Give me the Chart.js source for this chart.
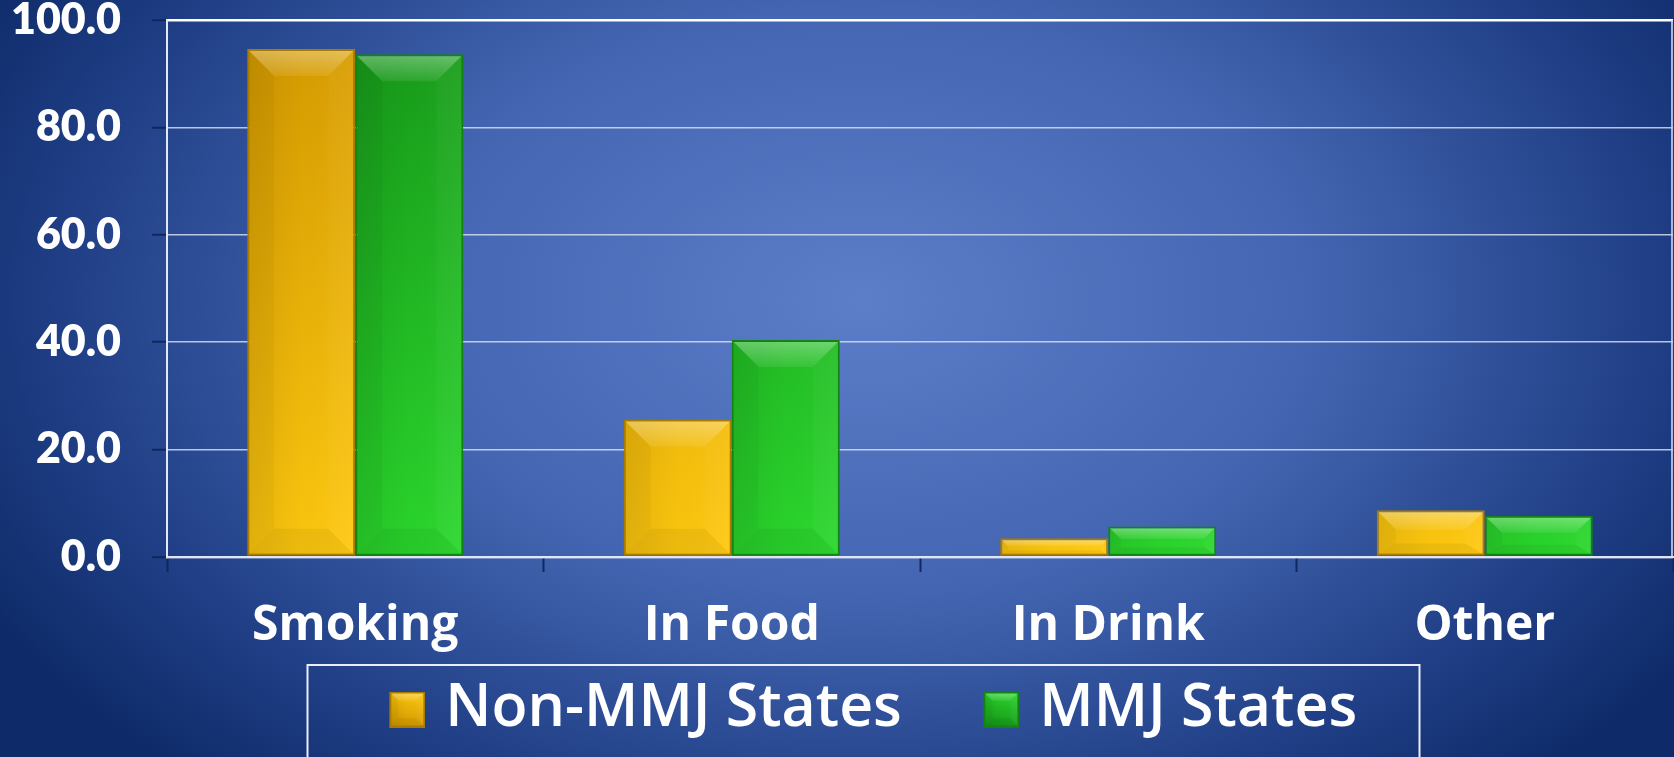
<!DOCTYPE html>
<html>
<head>
<meta charset="utf-8">
<script src="https://cdn.jsdelivr.net/npm/chart.js@4.4.1/dist/chart.umd.min.js"></script>
<style>
  html, body { margin: 0; padding: 0; background: #0e2a68; }
  canvas { display: block; }
</style>
</head>
<body>
<canvas id="chart" width="1674" height="757"></canvas>
<script>
const categories = ['Smoking', 'In Food', 'In Drink', 'Other']
const nonMmjStates = [94.6, 25.6, 3.5, 8.7]
const mmjStates = [93.6, 40.4, 5.7, 7.7]
const yTicks = [0, 20, 40, 60, 80, 100]

const gold = { dark: '#d69b00', light: '#ffc90f', edge: '#a97b00' }
const green = { dark: '#179a19', light: '#2bd82d', edge: '#138413' }

const tickDark = 'rgba(14, 38, 92, 0.95)'

// legend marker box: the swatch sits at the right end of a wider transparent canvas,
// which pushes it away from the previous label and closer to its own text
const SWATCH = 36
const MARKER_BOX = 88
const MARKER_CANVAS = MARKER_BOX + 19

// bevelled "pillow" look for a bar: light top facet, darker sides and bottom
function drawBevel(ctx, l, t, r, b) {
  const w = r - l
  const h = b - t
  if (w <= 0 || h <= 0) return
  const d = Math.min(w * 0.24, h * 0.42)
  const db = Math.min(d, h * 0.25)

  const facet = (pts, fill) => {
    ctx.beginPath()
    ctx.moveTo(pts[0][0], pts[0][1])
    pts.slice(1).forEach(p => ctx.lineTo(p[0], p[1]))
    ctx.closePath()
    ctx.fillStyle = fill
    ctx.fill()
  }

  ctx.save()
  const shade = ctx.createLinearGradient(l, 0, r, 0)
  shade.addColorStop(0, 'rgba(0,0,0,0.09)')
  shade.addColorStop(0.5, 'rgba(0,0,0,0.02)')
  shade.addColorStop(1, 'rgba(255,255,255,0.03)')
  ctx.fillStyle = shade
  ctx.fillRect(l, t, w, h)

  const topLight = ctx.createLinearGradient(0, t, 0, t + d)
  topLight.addColorStop(0, 'rgba(255,255,255,0.32)')
  topLight.addColorStop(1, 'rgba(255,255,255,0.08)')
  facet([[l, t], [r, t], [r - d, t + d], [l + d, t + d]], topLight)
  facet([[l, t], [l + d, t + d], [l + d, b - db], [l, b]], 'rgba(0,0,0,0.03)')
  facet([[r, t], [r - d, t + d], [r - d, b - db], [r, b]], 'rgba(255,255,255,0.03)')
  facet([[l, b], [l + d, b - db], [r - d, b - db], [r, b]], 'rgba(0,0,0,0.05)')
  ctx.restore()
}

function makeSwatch(colors) {
  const c = document.createElement('canvas')
  c.width = MARKER_CANVAS
  c.height = SWATCH
  const g = c.getContext('2d')
  g.translate(MARKER_CANVAS - SWATCH, 0)
  const fill = g.createLinearGradient(0, 0, 0, SWATCH)
  fill.addColorStop(0, colors.light)
  fill.addColorStop(1, colors.dark)
  g.fillStyle = fill
  g.fillRect(0, 0, SWATCH, SWATCH)
  drawBevel(g, 1, 1, SWATCH - 1, SWATCH - 1)
  g.strokeStyle = colors.edge
  g.lineWidth = 2
  g.strokeRect(1, 1, SWATCH - 2, SWATCH - 2)
  return c
}

function barFill(colors) {
  return ({ chart }) => {
    const area = chart.chartArea
    if (!area) return colors.light
    const g = chart.ctx.createLinearGradient(0, area.top, 0, area.bottom)
    g.addColorStop(0, colors.dark)
    g.addColorStop(1, colors.light)
    return g
  }
}

const swatches = [makeSwatch(gold), makeSwatch(green)]

const backdrop = {
  id: 'backdrop',
  beforeDraw(chart) {
    const { ctx } = chart
    ctx.save()
    ctx.translate(860, 300)
    ctx.scale(1, 0.65)
    const g = ctx.createRadialGradient(0, 0, 0, 0, 0, 1000)
    g.addColorStop(0, '#5c7ec9')
    g.addColorStop(0.45, '#4466b2')
    g.addColorStop(0.8, '#1f3e85')
    g.addColorStop(1, '#0e2a68')
    ctx.fillStyle = g
    ctx.fillRect(-1000, -1000 / 0.65, 2000, 2000 / 0.65 + 200)
    ctx.restore()
  },
  afterLayout(chart) {
    chart.legend.left += 6
    chart.legend.right += 6
  },
  afterDatasetsDraw(chart) {
    const { ctx } = chart
    chart.data.datasets.forEach((ds, i) => {
      chart.getDatasetMeta(i).data.forEach(bar => {
        const { x, y, base, width } = bar.getProps(['x', 'y', 'base', 'width'], true)
        drawBevel(ctx, x - width / 2 + 2, y + 2, x + width / 2 - 2, base - 2)
      })
    })
  },
  afterDraw(chart) {
    const { ctx, chartArea, legend } = chart
    ctx.save()
    ctx.strokeStyle = 'rgba(205, 215, 240, 0.8)'
    ctx.lineWidth = 2
    ctx.beginPath()
    ctx.moveTo(chartArea.right - 1, chartArea.top)
    ctx.lineTo(chartArea.right - 1, chartArea.bottom)
    ctx.stroke()

    // frame round the legend, running off the bottom edge
    const cx = (legend.left + legend.right) / 2
    ctx.strokeStyle = '#e9eef9'
    ctx.lineWidth = 2
    ctx.strokeRect(cx - 535, legend.top + 5, 1112, 140)
    ctx.restore()
  }
}

new Chart(document.getElementById('chart'), {
  type: 'bar',
  data: {
    labels: categories,
    datasets: [
      {
        label: 'Non-MMJ States',
        data: nonMmjStates,
        backgroundColor: barFill(gold),
        borderColor: gold.edge,
        borderWidth: 2,
        borderSkipped: false
      },
      {
        label: 'MMJ States',
        data: mmjStates,
        backgroundColor: barFill(green),
        borderColor: green.edge,
        borderWidth: 2,
        borderSkipped: false
      }
    ]
  },
  options: {
    responsive: false,
    animation: false,
    devicePixelRatio: 1,
    categoryPercentage: 0.574,
    barPercentage: 1,
    layout: { padding: { top: 20, right: 1, bottom: 8, left: 0 } },
    scales: {
      x: {
        afterFit: scale => { scale.height = 103 },
        grid: {
          drawOnChartArea: false,
          offset: true,
          tickLength: 15,
          tickColor: tickDark,
          tickWidth: 2
        },
        border: { display: true, color: '#dfe5f4', width: 2 },
        ticks: {
          color: '#ffffff',
          padding: 26,
          font: { family: 'Open Sans', size: 48, weight: '700' }
        }
      },
      y: {
        min: 0,
        max: 100,
        afterFit: scale => {
          scale.width = 167
          scale.paddingTop = 0
          scale.paddingBottom = 0
        },
        afterBuildTicks: scale => { scale.ticks = yTicks.map(value => ({ value })) },
        grid: {
          color: ctx => (ctx.tick && ctx.tick.value === 100 ? '#ffffff' : 'rgba(222, 230, 248, 0.8)'),
          lineWidth: ctx => (ctx.tick && (ctx.tick.value === 100 || ctx.tick.value === 0) ? 2.5 : 1.5),
          tickLength: 15,
          tickColor: tickDark,
          tickWidth: 2
        },
        border: { display: true, color: '#e2e8f6', width: 2 },
        ticks: {
          color: '#ffffff',
          padding: 31,
          font: { family: 'Lato', size: 43, weight: '800', lineHeight: 1 },
          callback: v => v.toFixed(1)
        }
      }
    },
    plugins: {
      tooltip: { enabled: false },
      legend: {
        position: 'bottom',
        labels: {
          usePointStyle: true,
          pointStyleWidth: MARKER_BOX,
          boxHeight: SWATCH,
          padding: 20,
          color: '#ffffff',
          font: { family: 'Open Sans', size: 59, weight: '600' },
          generateLabels: chart => chart.data.datasets.map((ds, i) => ({
            text: ds.label,
            pointStyle: swatches[i],
            fontColor: '#ffffff',
            fillStyle: 'transparent',
            strokeStyle: 'transparent',
            lineWidth: 0,
            hidden: false,
            datasetIndex: i
          }))
        }
      }
    }
  },
  plugins: [backdrop]
})
</script>
</body>
</html>
